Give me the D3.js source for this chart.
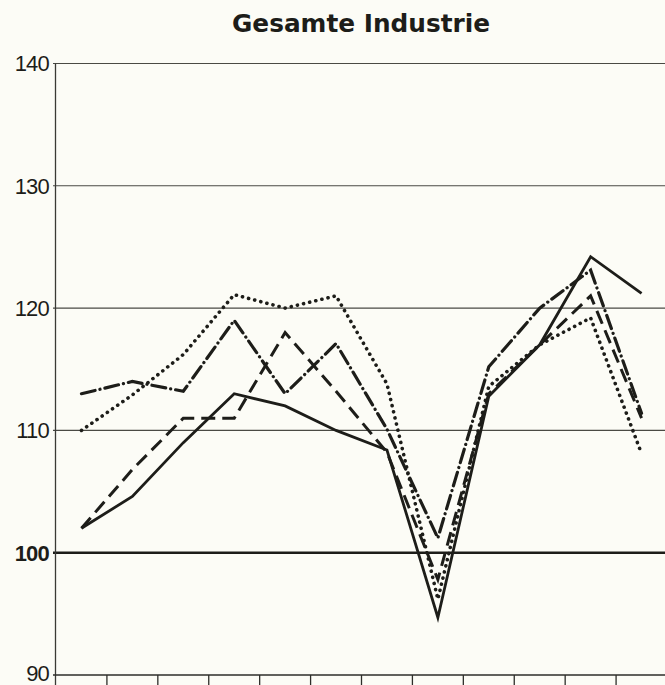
<!DOCTYPE html>
<html>
<head>
<meta charset="utf-8">
<script src="https://cdn.jsdelivr.net/npm/d3@7"></script>
<style>
  body { margin: 0; background: #fcfcf6; }
  svg { display: block; }
</style>
</head>
<body>
<div class="chart"></div>
<script>
// canvas size
let svg_width = 665;
let svg_height = 685;

// data
let months = ["Jan", "Feb", "Mär", "Apr", "Mai", "Jun", "Jul", "Aug", "Sep", "Okt", "Nov", "Dez"];
let solid_values   = [102, 104.6, 109, 113, 112, 110, 108.4, 94.7, 112.8, 117, 124.2, 121.2];
let dashed_values  = [102, 106.8, 111, 111, 118, 113.2, 108.2, 97.8, 113, 117, 121, 111];
let dashdot_values = [113, 114, 113.2, 119, 113, 117.1, 110.1, 101.2, 115.2, 120, 123.1, 111.4];
let dotted_values  = [110, 112.9, 116.2, 121.1, 120, 121, 113.8, 96.2, 113.6, 117, 119.2, 108.1];
let y_ticks = [90, 100, 110, 120, 130, 140];

let ink = "#1d1d19";

// scales
let x_scale = d3.scaleBand()
                .domain(months)
                .range([56, 667]);

let y_scale = d3.scaleLinear()
                .domain([90, 140])
                .range([675, 63.5]);

let svg = d3.select(".chart")
            .append("svg")
            .attr("width", svg_width)
            .attr("height", svg_height);

// title
svg.append("text")
   .text("Gesamte Industrie")
   .attr("x", 361)
   .attr("y", 32)
   .attr("text-anchor", "middle")
   .attr("font-family", "DejaVu Sans, sans-serif")
   .attr("font-weight", "bold")
   .attr("font-size", 24)
   .attr("textLength", 258)
   .attr("lengthAdjust", "spacingAndGlyphs")
   .attr("fill", ink);

// horizontal grid lines
svg.selectAll(".grid")
   .data(y_ticks.filter(function(d) { return d > 90; }))
   .enter()
   .append("line")
   .attr("x1", 53)
   .attr("x2", svg_width)
   .attr("y1", function(d) { return y_scale(d); })
   .attr("y2", function(d) { return y_scale(d); })
   .attr("stroke", function(d) { return d == 100 ? ink : "#4a4a44"; })
   .attr("stroke-width", function(d) { return d == 100 ? 2.4 : 1.1; });

// y labels
svg.selectAll(".ylab")
   .data(y_ticks)
   .enter()
   .append("text")
   .text(function(d) { return d; })
   .attr("x", 49)
   .attr("y", function(d) { return y_scale(d); })
   .attr("dy", function(d) { return d == 90 ? "0.25em" : "0.36em"; })
   .attr("text-anchor", "end")
   .attr("font-family", "Liberation Sans, Arial, sans-serif")
   .attr("font-size", 22)
   .attr("letter-spacing", -0.8)
   .attr("font-weight", function(d) { return d == 100 ? "bold" : "normal"; })
   .attr("fill", ink);

// left axis and bottom axis
svg.append("line")
   .attr("x1", 55.5).attr("x2", 55.5)
   .attr("y1", y_scale(140)).attr("y2", svg_height)
   .attr("stroke", "#3a3a35").attr("stroke-width", 1.3);

svg.append("line")
   .attr("x1", 53).attr("x2", svg_width)
   .attr("y1", y_scale(90)).attr("y2", y_scale(90))
   .attr("stroke", "#2e2e2a").attr("stroke-width", 1.6);

// month boundary ticks below the axis
svg.selectAll(".tick")
   .data(months.slice(1))
   .enter()
   .append("line")
   .attr("x1", function(d) { return x_scale(d); })
   .attr("x2", function(d) { return x_scale(d); })
   .attr("y1", y_scale(90))
   .attr("y2", svg_height)
   .attr("stroke", "#2e2e2a")
   .attr("stroke-width", 1.3);

// lines
let line = d3.line()
             .x(function(d, i) { return x_scale(months[i]) + x_scale.bandwidth() / 2; })
             .y(function(d) { return y_scale(d); });

let series = [
  { values: dotted_values,  dash: "0.1 6.2", width: 3.6, cap: "round" },
  { values: dashdot_values, dash: "14 5 0.1 5", width: 3.2, cap: "round" },
  { values: dashed_values,  dash: "14 7", width: 3, cap: "butt" },
  { values: solid_values,   dash: null, width: 2.8, cap: "butt" }
];

svg.selectAll(".series")
   .data(series)
   .enter()
   .append("path")
   .attr("d", function(d) { return line(d.values); })
   .attr("fill", "none")
   .attr("stroke", ink)
   .attr("stroke-width", function(d) { return d.width; })
   .attr("stroke-dasharray", function(d) { return d.dash; })
   .attr("stroke-linecap", function(d) { return d.cap; })
   .attr("stroke-linejoin", "miter");
</script>
</body>
</html>
